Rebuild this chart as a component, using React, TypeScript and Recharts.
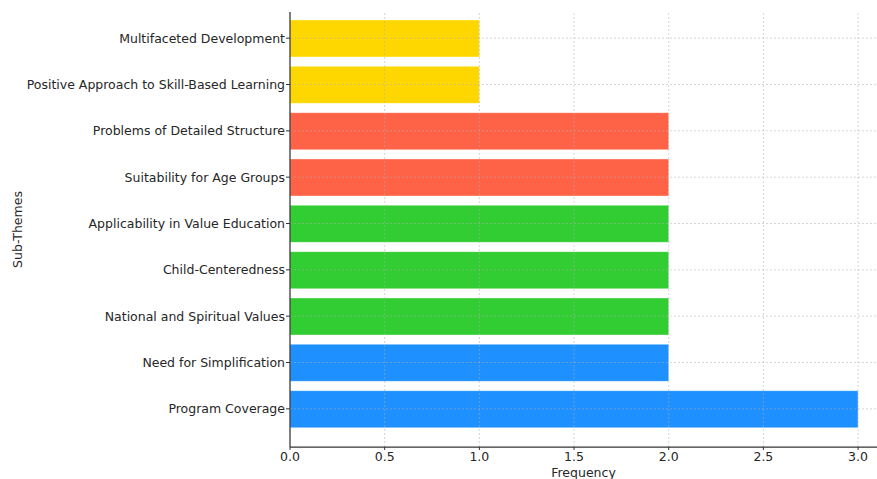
import React from "react";
import { BarChart, Bar, Cell, XAxis, YAxis, ReferenceLine } from "recharts";

// sub-themes, top to bottom as drawn
const subThemes = [
  "Multifaceted Development",
  "Positive Approach to Skill-Based Learning",
  "Problems of Detailed Structure",
  "Suitability for Age Groups",
  "Applicability in Value Education",
  "Child-Centeredness",
  "National and Spiritual Values",
  "Need for Simplification",
  "Program Coverage",
];
const frequencies = [1, 1, 2, 2, 2, 2, 2, 2, 3];
const barColors = [
  "#FFD700",
  "#FFD700",
  "#FF6347",
  "#FF6347",
  "#32CD32",
  "#32CD32",
  "#32CD32",
  "#1E90FF",
  "#1E90FF",
];
const xTicks = [0, 0.5, 1, 1.5, 2, 2.5, 3];

const FONT = "'DejaVu Sans', sans-serif";
const TEXT = "#262626";
const SPINE = "#333333";
const GRID = "#b0b0b0";

export default function App() {
  const data = subThemes.map((name, i) => ({ name, value: frequencies[i] }));

  return (
    <div style={{ position: "absolute", left: 0, top: 0, background: "#fff", fontFamily: FONT }}>
      <BarChart
        width={877}
        height={479}
        data={data}
        layout="vertical"
        margin={{ top: 12, right: 0, bottom: 0, left: 0 }}
      >
        <XAxis
          type="number"
          domain={[0, 3.1]}
          ticks={xTicks}
          tickFormatter={(v: number) => v.toFixed(1)}
          allowDataOverflow
          height={32}
          tick={{ fontSize: 12.5, fill: TEXT, fontFamily: FONT }}
          tickSize={3}
          tickMargin={2}
          stroke={SPINE}
          axisLine={{ stroke: SPINE, strokeWidth: 1.25 }}
          label={{
            value: "Frequency",
            position: "insideBottom",
            offset: 2,
            fontSize: 12.5,
            fill: TEXT,
            fontFamily: FONT,
          }}
        />
        <YAxis
          type="category"
          dataKey="name"
          width={290}
          interval={0}
          padding={{ top: 3, bottom: 15 }}
          tick={{ fontSize: 12.5, fill: TEXT, fontFamily: FONT }}
          tickSize={4}
          tickMargin={1}
          stroke={SPINE}
          axisLine={{ stroke: SPINE, strokeWidth: 1.25 }}
          label={{
            value: "Sub-Themes",
            angle: -90,
            position: "center",
            dx: -127,
            fontSize: 12.5,
            fill: TEXT,
            fontFamily: FONT,
          }}
        />
        <Bar
          dataKey="value"
          barSize={37}
          stroke="#ffffff"
          strokeOpacity={0.35}
          strokeWidth={1}
          isAnimationActive={false}
        >
          {data.map((d, i) => (
            <Cell key={d.name} fill={barColors[i]} />
          ))}
        </Bar>
        {/* grid sits on top of the bars, faint and dashed */}
        {subThemes.map((s) => (
          <ReferenceLine
            key={s}
            y={s}
            stroke={GRID}
            strokeOpacity={0.5}
            strokeDasharray="2 2"
          />
        ))}
        {xTicks.slice(1).map((t) => (
          <ReferenceLine
            key={t}
            x={t}
            stroke={GRID}
            strokeOpacity={0.5}
            strokeDasharray="2 2"
          />
        ))}
      </BarChart>
    </div>
  );
}
